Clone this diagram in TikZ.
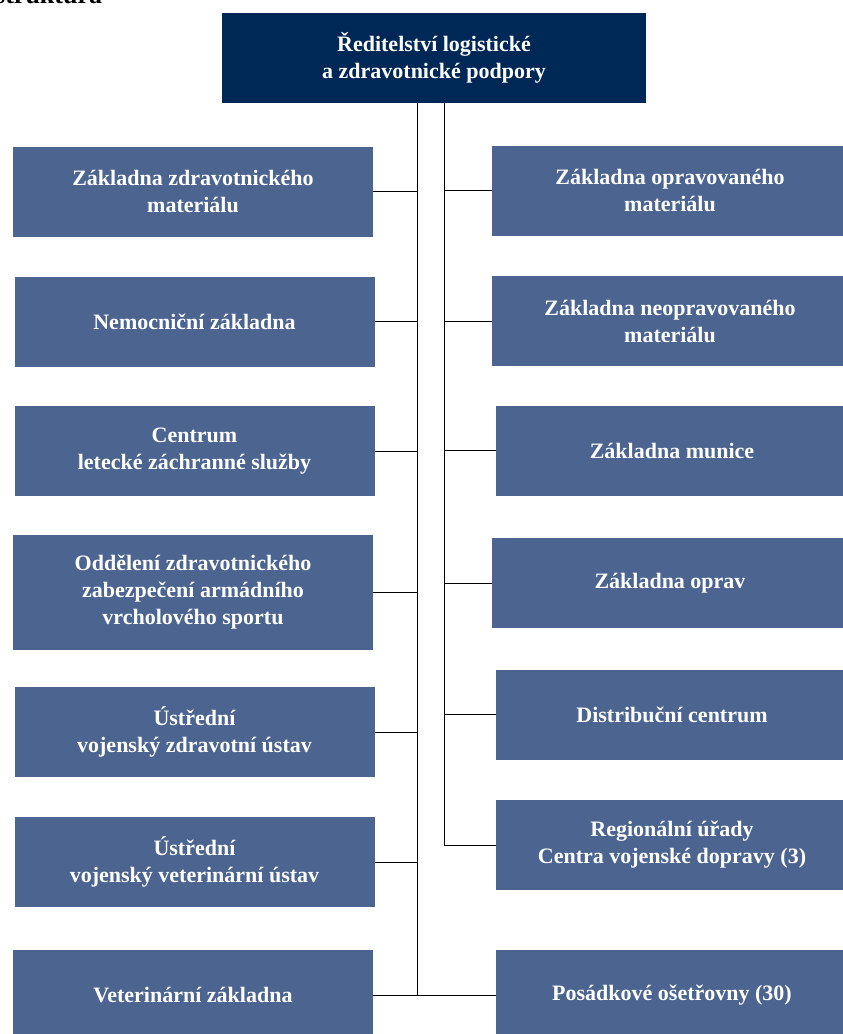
\documentclass[tikz,border=0pt]{standalone}
\usepackage{fontspec}
\setmainfont{Liberation Serif}
\usetikzlibrary{positioning}
\definecolor{tmava}{HTML}{002856}
\definecolor{svetla}{HTML}{4B6490}
\begin{document}
\begin{tikzpicture}[x=1pt,y=-1pt]
\tikzstyle{reditel}=[rectangle, inner sep=0pt, outer sep=0pt,
	fill=tmava, text=white, align=center,
	font=\bfseries\fontsize{22}{27}\selectfont,
	minimum width=424pt, minimum height=90pt,
]
\tikzstyle{utvar}=[rectangle, inner sep=0pt, outer sep=0pt,
	fill=svetla, text=white, align=center,
	font=\bfseries\fontsize{22}{27}\selectfont,
	minimum width=360pt, minimum height=90pt,
]
\tikzstyle{spoj}=[draw=black, line width=1pt]
\useasboundingbox (0,0) rectangle (843,1034);
\node[anchor=base west, inner sep=0pt, font=\bfseries\fontsize{26}{30}\selectfont] (nadpis) at (-5,3) {struktura};
\node[reditel] (rlzp) at (434,58) {Ředitelství logistické\\a zdravotnické podpory};
% levá strana
\node[utvar] (zzm) at (193,191.5) {Základna zdravotnického\\materiálu};
\node[utvar] (nz) at (194.5,321.5) {Nemocniční základna};
\node[utvar] (clzs) at (194.5,451) {Centrum\\letecké záchranné služby};
\node[utvar, minimum height=115pt] (ozz) at (193,592) {Oddělení zdravotnického\\zabezpečení armádního\\vrcholového sportu};
\node[utvar] (uvzu) at (194.5,732) {Ústřední\\vojenský zdravotní ústav};
\node[utvar] (uvvu) at (194.5,862) {Ústřední\\vojenský veterinární ústav};
\node[utvar] (vz) at (193,995) {Veterinární základna};
% pravá strana
\node[utvar, minimum width=356pt] (zom) at (670,190.5) {Základna opravovaného\\materiálu};
\node[utvar, minimum width=356pt] (znm) at (670,321) {Základna neopravovaného\\materiálu};
\node[utvar, minimum width=352pt] (zm) at (672,450.5) {Základna munice};
\node[utvar, minimum width=356pt] (zo) at (670,583) {Základna oprav};
\node[utvar, minimum width=352pt] (dc) at (672,714.5) {Distribuční centrum};
\node[utvar, minimum width=352pt] (ru) at (672,845) {Regionální úřady\\Centra vojenské dopravy (3)};
\node[utvar, minimum width=352pt] (po) at (672,995) {Posádkové ošetřovny (30)};
% spoje
\coordinate (lk) at (417,103);
\coordinate (pk) at (444,103);
\path[spoj] (lk) edge (lk |- vz.east) ;
\path[spoj] (pk) edge (pk |- ru.west) ;
\path[spoj] (zzm.east) edge (zzm.east -| lk) ;
\path[spoj] (nz.east) edge (nz.east -| lk) ;
\path[spoj] (clzs.east) edge (clzs.east -| lk) ;
\path[spoj] (ozz.east) edge (ozz.east -| lk) ;
\path[spoj] (uvzu.east) edge (uvzu.east -| lk) ;
\path[spoj] (uvvu.east) edge (uvvu.east -| lk) ;
\path[spoj] (vz.east) edge (po.west) ;
\path[spoj] (zom.west) edge (zom.west -| pk) ;
\path[spoj] (znm.west) edge (znm.west -| pk) ;
\path[spoj] (zm.west) edge (zm.west -| pk) ;
\path[spoj] (zo.west) edge (zo.west -| pk) ;
\path[spoj] (dc.west) edge (dc.west -| pk) ;
\path[spoj] (ru.west) edge (ru.west -| pk) ;
\end{tikzpicture}
\end{document}
